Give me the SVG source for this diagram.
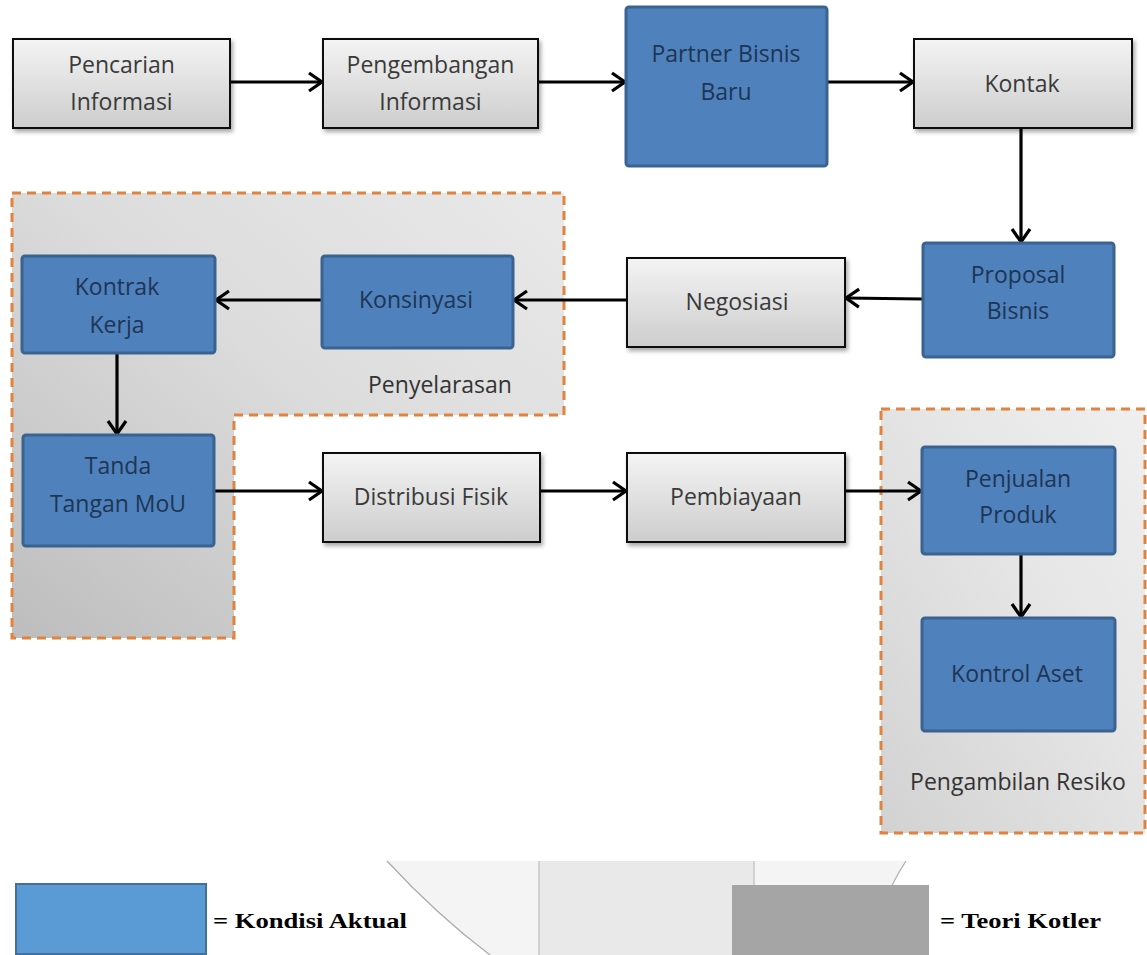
<svg xmlns="http://www.w3.org/2000/svg" width="1147" height="955" viewBox="0 0 1147 955">
<defs>
<linearGradient id="gGray" x1="0" y1="0" x2="0" y2="1">
<stop offset="0" stop-color="#f4f4f4"/><stop offset="1" stop-color="#cdcdcd"/>
</linearGradient>
<linearGradient id="gReg1" x1="0" y1="1" x2="1" y2="0">
<stop offset="0" stop-color="#bdbdbd"/><stop offset="0.55" stop-color="#dcdcdc"/><stop offset="1" stop-color="#e9e9e9"/>
</linearGradient>
<linearGradient id="gReg2" x1="0" y1="1" x2="1" y2="0">
<stop offset="0" stop-color="#d2d2d2"/><stop offset="0.6" stop-color="#e6e6e6"/><stop offset="1" stop-color="#efefef"/>
</linearGradient>
<filter id="sh" x="-10%" y="-10%" width="130%" height="140%">
<feDropShadow dx="2" dy="3" stdDeviation="2" flood-color="#000" flood-opacity="0.35"/>
</filter>
<marker id="ah" markerUnits="userSpaceOnUse" markerWidth="24" markerHeight="24" viewBox="0 0 24 24" refX="18" refY="12" orient="auto">
<path d="M5,3 L18,12 L5,21" fill="none" stroke="#000" stroke-width="3.2" stroke-linejoin="miter"/>
</marker>
</defs>
<style>
.gbox{fill:url(#gGray);stroke:#111;stroke-width:2;filter:url(#sh)}
.bbox{fill:#4f81bd;stroke:#3b6390;stroke-width:3}
.gt{font-family:"Open Sans","Noto Sans",sans-serif;font-size:23px;fill:#3a3a3a;text-anchor:middle}
.bt{font-family:"Open Sans","Noto Sans",sans-serif;font-size:23px;fill:#1e3553;text-anchor:middle}
.rt{font-family:"Open Sans","Noto Sans",sans-serif;font-size:23px;fill:#333;text-anchor:middle}
.reg{stroke:#e2823c;stroke-width:3;stroke-dasharray:9 6}
.conn line{stroke:#000;stroke-width:3.2;marker-end:url(#ah)}
.lg{font-family:"Liberation Serif","Times New Roman",serif;font-size:21px;font-weight:bold;fill:#000}
</style>

<!-- background decorative bowl -->
<g id="bowl">
<path d="M387,861 L906,861 Q880,900 870,955 L490,955 Q437,915 387,861 Z" fill="#f4f4f4"/>
<rect x="539" y="861" width="215" height="94" fill="#e9e9e9"/>
<line x1="539" y1="861" x2="539" y2="955" stroke="#c8c8c8" stroke-width="1.5"/>
<line x1="754" y1="861" x2="754" y2="955" stroke="#c8c8c8" stroke-width="1.5"/>
<path d="M387,861 Q437,915 490,955" fill="none" stroke="#ababab" stroke-width="1.2"/>
<path d="M906,861 Q880,900 870,955" fill="none" stroke="#ababab" stroke-width="1.2"/>
</g>

<!-- regions -->
<g id="region-penyelarasan">
<path class="reg" d="M12,193 H564 V415 H234 V638 H12 Z" fill="url(#gReg1)"/>
<text class="rt" x="440" y="393">Penyelarasan</text>
</g>
<g id="region-pengambilan">
<path class="reg" d="M881,409 H1145 V833 H881 Z" fill="url(#gReg2)"/>
<text class="rt" x="1018" y="790">Pengambilan Resiko</text>
</g>

<!-- connectors -->
<g id="connectors" class="conn">
<line x1="230" y1="82" x2="322" y2="82"/>
<line x1="538" y1="82" x2="625" y2="82"/>
<line x1="827" y1="82" x2="913" y2="82"/>
<line x1="1021" y1="128" x2="1021" y2="242"/>
<line x1="922" y1="299" x2="846" y2="298"/>
<line x1="627" y1="300" x2="514" y2="300"/>
<line x1="322" y1="300" x2="216" y2="300"/>
<line x1="117" y1="353" x2="117" y2="434"/>
<line x1="214" y1="491" x2="322" y2="491"/>
<line x1="540" y1="491" x2="626" y2="491"/>
<line x1="845" y1="491" x2="921" y2="491"/>
<line x1="1021" y1="554" x2="1021" y2="617"/>
</g>

<!-- nodes -->
<g id="n-pencarian">
<rect class="gbox" x="13" y="39" width="217" height="89"/>
<text class="gt" x="121.5" y="73">Pencarian</text>
<text class="gt" x="121.5" y="110">Informasi</text>
</g>
<g id="n-pengembangan">
<rect class="gbox" x="323" y="39" width="215" height="89"/>
<text class="gt" x="430.5" y="73">Pengembangan</text>
<text class="gt" x="430.5" y="110">Informasi</text>
</g>
<g id="n-partner">
<rect class="bbox" x="626" y="7" width="201" height="159" rx="3"/>
<text class="bt" x="726" y="62">Partner Bisnis</text>
<text class="bt" x="726" y="100">Baru</text>
</g>
<g id="n-kontak">
<rect class="gbox" x="914" y="39" width="218" height="89"/>
<text class="gt" x="1022" y="92">Kontak</text>
</g>
<g id="n-proposal">
<rect class="bbox" x="923" y="243" width="191" height="114" rx="3"/>
<text class="bt" x="1018" y="283">Proposal</text>
<text class="bt" x="1018" y="319">Bisnis</text>
</g>
<g id="n-negosiasi">
<rect class="gbox" x="627" y="258" width="218" height="89"/>
<text class="gt" x="737" y="310">Negosiasi</text>
</g>
<g id="n-konsinyasi">
<rect class="bbox" x="322" y="256" width="191" height="92" rx="3"/>
<text class="bt" x="416" y="308">Konsinyasi</text>
</g>
<g id="n-kontrak">
<rect class="bbox" x="22" y="256" width="193" height="97" rx="3"/>
<text class="bt" x="117" y="295">Kontrak</text>
<text class="bt" x="117" y="333">Kerja</text>
</g>
<g id="n-tanda">
<rect class="bbox" x="23" y="435" width="191" height="111" rx="3"/>
<text class="bt" x="118" y="474">Tanda</text>
<text class="bt" x="118" y="512">Tangan MoU</text>
</g>
<g id="n-distribusi">
<rect class="gbox" x="323" y="453" width="217" height="89"/>
<text class="gt" x="431" y="505">Distribusi Fisik</text>
</g>
<g id="n-pembiayaan">
<rect class="gbox" x="627" y="453" width="218" height="89"/>
<text class="gt" x="736" y="505">Pembiayaan</text>
</g>
<g id="n-penjualan">
<rect class="bbox" x="922" y="447" width="193" height="107" rx="3"/>
<text class="bt" x="1018" y="487">Penjualan</text>
<text class="bt" x="1018" y="523">Produk</text>
</g>
<g id="n-kontrol">
<rect class="bbox" x="922" y="618" width="193" height="113" rx="3"/>
<text class="bt" x="1017" y="682">Kontrol Aset</text>
</g>

<!-- legend -->
<g id="legend-aktual">
<rect x="16" y="884" width="190" height="70" fill="#5b9bd5" stroke="#41719c" stroke-width="2"/>
<text class="lg" x="213" y="928" textLength="194" lengthAdjust="spacingAndGlyphs">= Kondisi Aktual</text>
</g>
<g id="legend-kotler">
<rect x="732" y="885" width="197" height="70" fill="#a5a5a5"/>
<text class="lg" x="940" y="928" textLength="161" lengthAdjust="spacingAndGlyphs">= Teori Kotler</text>
</g>
</svg>
